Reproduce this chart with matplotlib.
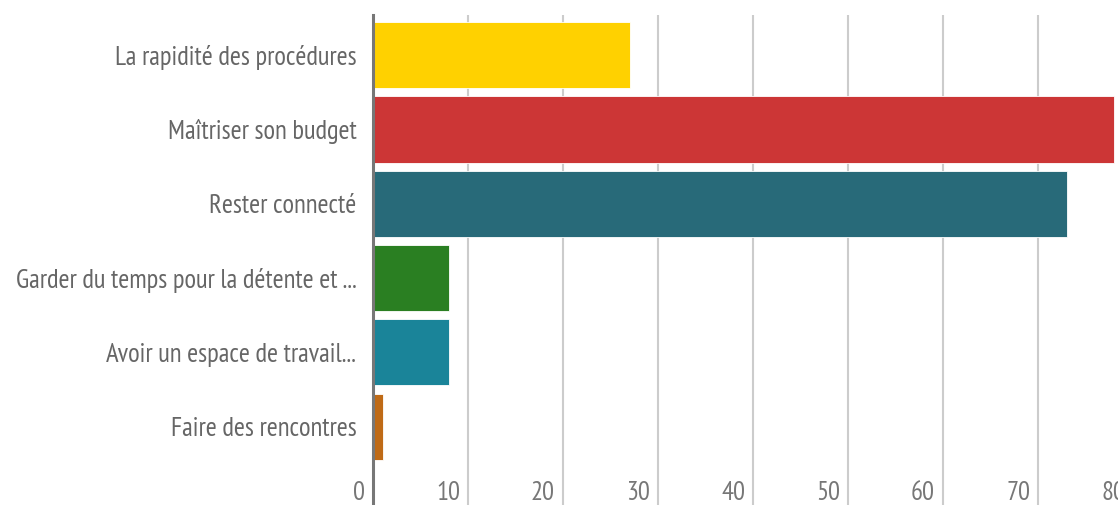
import matplotlib
matplotlib.use("Agg")
import matplotlib.pyplot as plt
import matplotlib.transforms as mtransforms

categories = [
    "La rapidité des procédures",
    "Maîtriser son budget",
    "Rester connecté",
    "Garder du temps pour la détente et ...",
    "Avoir un espace de travail...",
    "Faire des rencontres",
]
values = [27, 78, 73, 8, 8, 1]
colors = ["#FFD100", "#CC3636", "#286A79", "#2A7F22", "#1A8499", "#BF6A16"]
xticks = [0, 10, 20, 30, 40, 50, 60, 70, 80]

plt.rcParams["font.family"] = ["PT Sans Narrow", "DejaVu Sans"]

fig = plt.figure(figsize=(11.18, 5.05), dpi=100)
# left spine at x=373px, 80 lands at ~1133px (cropped off), top at 15px, bottom at figure edge
ax = fig.add_axes([373 / 1118, 0, 760 / 1118, 490 / 505])

y = list(range(len(categories)))
ax.barh(y, values, height=0.89, color=colors, edgecolor="#ffffff", linewidth=0.6, zorder=3)

ax.set_xlim(0, 80)
ax.set_ylim(len(categories) - 1 + 1.053, -0.54)

ax.set_yticks(y)
ax.set_yticklabels(categories, fontsize=19.2, color="#666666")
ax.tick_params(axis="y", length=0, pad=12)

ax.set_xticks(xticks)
ax.set_xticklabels([str(t) for t in xticks], fontsize=19.2, color="#777777", ha="right")
ax.tick_params(axis="x", length=0, pad=-17)
shift = mtransforms.ScaledTranslation(-8 / 100, 0, fig.dpi_scale_trans)
for lab in ax.get_xticklabels():
    lab.set_transform(lab.get_transform() + shift)

ax.grid(axis="x", color="#cccccc", linewidth=1.5, zorder=0)
for s in ["top", "right", "bottom"]:
    ax.spines[s].set_visible(False)
ax.spines["left"].set_color("#777777")
ax.spines["left"].set_linewidth(2.2)
ax.spines["left"].set_zorder(4)

fig.savefig("out.png", dpi=100)
